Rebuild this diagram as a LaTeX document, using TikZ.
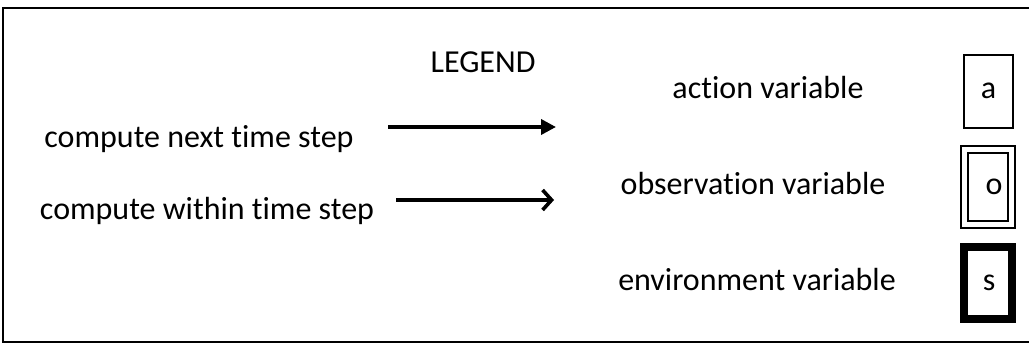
\documentclass[tikz,border=0pt]{standalone}
\usepackage{fontspec}
\setmainfont[Ligatures=CommonOff]{Carlito}
\usetikzlibrary{arrows.meta}
\begin{document}
\begin{tikzpicture}[x=1pt,y=-1pt,
  lbl/.style={inner sep=0pt,anchor=center,font=\fontsize{32}{38}\selectfont},
  varbox/.style={draw,inner sep=0pt,minimum width=49pt,minimum height=73pt,font=\fontsize{32}{38}\selectfont},
  conn/.style={line width=3.6pt}]
\useasboundingbox (0,0) rectangle (1029,344);
% frame
\coordinate (ftr) at (1029,8);
\coordinate (ftl) at (3,8);
\coordinate (fbl) at (3,342);
\coordinate (fbr) at (1029,342);
\draw[line width=2pt] (ftr) -- (ftl) -- (fbl) -- (fbr);
% texts
\node[lbl] (legend) at (483,62) {LEGEND};
\node[lbl] (next) at (199,139) {compute next time step};
\node[lbl] (within) at (207,211) {compute within time step};
\node[lbl] (act) at (768,88) {action variable};
\node[lbl] (obs) at (753,184) {observation variable};
\node[lbl] (env) at (757,280) {environment variable};
% arrows
\coordinate (n1) at (388,127);
\coordinate (n2) at (556,127);
\coordinate (w1) at (396,200);
\coordinate (w2) at (554,200);
\draw[conn,-{Triangle[length=15pt,width=15pt]}] (n1) -- (n2);
\draw[conn,-{Straight Barb[length=9pt,width=20pt]}] (w1) -- (w2);
% variable boxes
\node[varbox,line width=1.5pt] (a) at (988.5,91.5) {\raisebox{2pt}{a}};
\node[varbox,line width=2pt,minimum width=40pt,minimum height=68pt] (o) at (988,187) {\hspace*{12pt}o};
\draw[line width=1.5pt] ([shift={(-6pt,-6pt)}]o.south west) rectangle ([shift={(6pt,6pt)}]o.north east);
\node[varbox,line width=8pt,minimum width=48pt,minimum height=72pt] (s) at (988,283) {\hspace*{2pt}s};
\end{tikzpicture}
\end{document}
